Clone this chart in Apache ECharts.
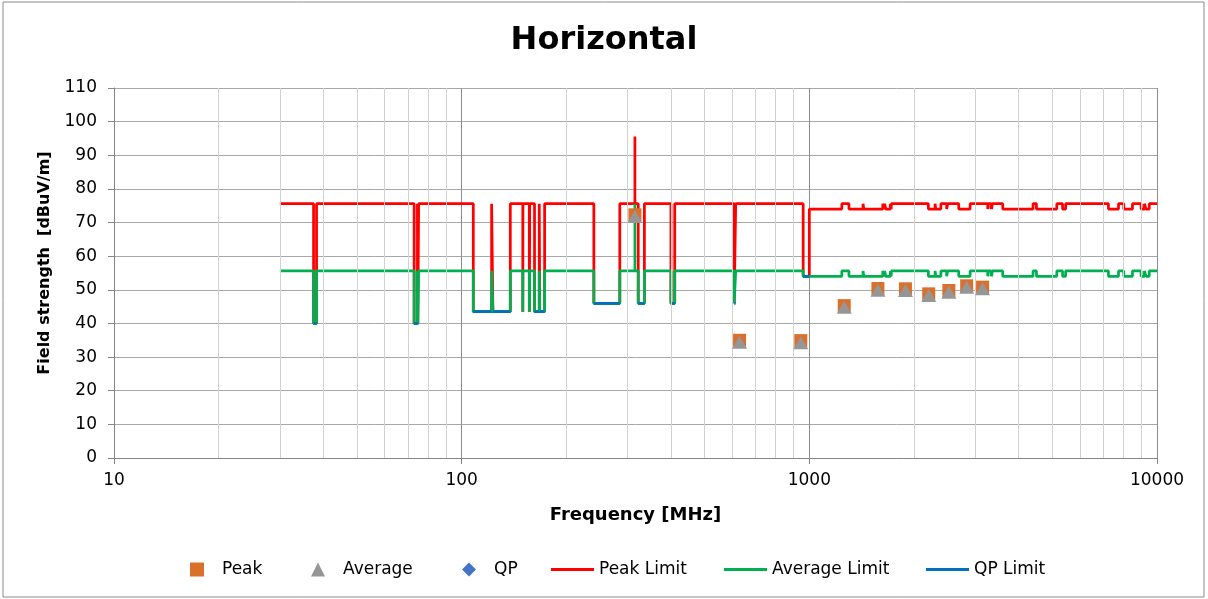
<!DOCTYPE html>
<html>
<head>
<meta charset="utf-8">
<title>Horizontal</title>
<script src="https://cdn.jsdelivr.net/npm/echarts@6/dist/echarts.min.js"></script>
<style>
  html, body { margin: 0; padding: 0; background: #fff; }
  #chart { width: 1208px; height: 599px; }
</style>
</head>
<body>
<div id="chart"></div>
<script>
// measured emissions (MHz, dBuV/m)
const peakFreq = [315, 630, 945, 1260, 1575, 1890, 2205, 2520, 2835, 3150];
const peakLevel = [72.3, 35.0, 34.9, 45.3, 50.4, 50.3, 48.8, 49.8, 51.2, 50.8];
const avgLevel = [71.8, 34.4, 34.3, 44.8, 49.9, 49.8, 48.3, 49.3, 50.8, 50.3];
const qpFreq = [];
const qpLevel = [];

// limit lines: general level outside the bands, band levels inside
const startFreq = 30;
const stopFreq = 10000;
const generalPeak = 75.6;
const generalAvg = 55.6;

const bandStart = [37.5, 73, 74.8, 108, 123, 149.9, 156.52475, 156.7, 162.0125, 167.72,
  240, 315, 322, 399.9, 608, 960, 1000, 1300, 1435, 1645.5, 1660, 1718.8, 2200, 2310,
  2483.5, 2690, 3260, 3332, 3345.8, 3600, 4500, 5350, 7250, 8025, 9000, 9300];
const bandStop = [38.25, 74.6, 75.2, 121.94, 138, 150.05, 156.52525, 156.9, 167.17, 173.2,
  285, 315, 335.4, 410, 614, 1000, 1240, 1427, 1626.5, 1646.5, 1710, 1722.2, 2300, 2390,
  2500, 2900, 3267, 3339, 3358, 4400, 5150, 5460, 7750, 8500, 9200, 9500];
const bandPeak = [40, 40, 40, 43.5, 43.5, 43.5, 43.5, 43.5, 43.5, 43.5,
  46, 95.6, 46, 46, 46, 54, 74, 74, 74, 74, 74, 74, 74, 74,
  74, 74, 74, 74, 74, 74, 74, 74, 74, 74, 74, 74];
const bandAvg = [40, 40, 40, 43.5, 43.5, 43.5, 43.5, 43.5, 43.5, 43.5,
  46, 75.6, 46, 46, 46, 54, 54, 54, 54, 54, 54, 54, 54, 54,
  54, 54, 54, 54, 54, 54, 54, 54, 54, 54, 54, 54];
const bandQp = [40, 40, 40, 43.5, 43.5, 43.5, 43.5, 43.5, 43.5, 43.5,
  46, null, 46, 46, 46, 54, null, null, null, null, null, null, null, null,
  null, null, null, null, null, null, null, null, null, null, null, null];

const minorTicks = [20, 30, 40, 50, 60, 70, 80, 90, 200, 300, 400, 500, 600, 700, 800, 900,
  2000, 3000, 4000, 5000, 6000, 7000, 8000, 9000];

function stepLine(bandLevel, general) {
  const pts = [[startFreq, general]];
  for (let i = 0; i < bandStart.length; i++) {
    const lo = bandStart[i], hi = bandStop[i];
    if (i === 0 || bandStop[i - 1] !== lo) pts.push([lo, general]);
    pts.push([lo, bandLevel[i]], [hi, bandLevel[i]]);
    if (i === bandStart.length - 1 || bandStart[i + 1] !== hi) pts.push([hi, general]);
  }
  pts.push([stopFreq, general]);
  return pts;
}

function qpSegments() {
  const pts = [];
  for (let i = 0; i < bandStart.length; i++) {
    if (bandQp[i] == null) continue;
    pts.push([bandStart[i], bandQp[i]], [bandStop[i], bandQp[i]], [bandStop[i], '-']);
  }
  return pts;
}

const font = 'DejaVu Sans';
const chart = echarts.init(document.getElementById('chart'));

// marker legends: small icon, text pushed right like the Excel legend
function markerLegend(name, left) {
  return {
    data: [name],
    left: left,
    top: 556,
    itemWidth: 14,
    itemHeight: 14,
    selectedMode: false,
    textStyle: { fontFamily: font, fontSize: 17, color: '#000', padding: [0, 0, 0, 13] }
  };
}
function lineLegend(name, left) {
  return {
    data: [{ name: name, icon: 'rect' }],
    left: left,
    top: 556,
    itemWidth: 43,
    itemHeight: 3,
    selectedMode: false,
    textStyle: { fontFamily: font, fontSize: 17, color: '#000' }
  };
}

const option = {
  animation: false,
  backgroundColor: '#fff',
  title: {
    text: 'Horizontal',
    left: 'center',
    top: 20,
    textStyle: { fontFamily: font, fontSize: 32, fontWeight: 'bold', color: '#000' }
  },
  legend: [
    markerLegend('Peak', 185),
    markerLegend('Average', 306),
    markerLegend('QP', 457),
    lineLegend('Peak Limit', 546),
    lineLegend('Average Limit', 719),
    lineLegend('QP Limit', 921)
  ],
  grid: { left: 114, right: 51, top: 88, bottom: 141 },
  xAxis: {
    type: 'log',
    logBase: 10,
    min: 10,
    max: 10000,
    name: 'Frequency [MHz]',
    nameLocation: 'middle',
    nameGap: 48,
    nameTextStyle: { fontFamily: font, fontSize: 18, fontWeight: 'bold', color: '#000' },
    axisLine: { lineStyle: { color: '#868686', width: 1 } },
    axisTick: { show: true, length: 6, lineStyle: { color: '#868686' } },
    axisLabel: {
      margin: 14,
      fontFamily: font,
      fontSize: 17,
      color: '#000',
      formatter: v => String(Math.round(v))
    },
    splitLine: { show: true, lineStyle: { color: '#8c8c8c', width: 1 } }
  },
  yAxis: {
    type: 'value',
    min: 0,
    max: 110,
    interval: 10,
    axisLine: { show: true, lineStyle: { color: '#868686', width: 1 } },
    axisTick: { show: true, length: 6, lineStyle: { color: '#868686' } },
    axisLabel: { margin: 17, fontFamily: font, fontSize: 17, color: '#000' },
    splitLine: { show: true, lineStyle: { color: '#a8a8a8', width: 1 } }
  },
  graphic: [
    {
      type: 'rect',
      shape: { x: 3, y: 2, width: 1201, height: 595 },
      style: { fill: null, stroke: '#8a8a8a', lineWidth: 1 },
      silent: true
    },
    {
      type: 'text',
      x: 45,
      y: 263,
      rotation: Math.PI / 2,
      style: {
        text: 'Field strength  [dBuV/m]',
        fontFamily: font,
        fontSize: 16,
        fontWeight: 'bold',
        fill: '#000',
        textAlign: 'center',
        textVerticalAlign: 'middle'
      },
      silent: true
    }
  ],
  series: [
    {
      name: 'minor grid',
      type: 'line',
      data: [],
      silent: true,
      z: 1,
      markLine: {
        silent: true,
        symbol: ['none', 'none'],
        label: { show: false },
        lineStyle: { color: '#d2d2d2', width: 1, type: 'solid' },
        data: minorTicks.map(f => ({ xAxis: f }))
      }
    },
    {
      name: 'Peak',
      type: 'scatter',
      symbol: 'rect',
      symbolSize: 13,
      z: 5,
      itemStyle: { color: '#D9702C', opacity: 1 },
      data: peakFreq.map((f, i) => [f, peakLevel[i]])
    },
    {
      name: 'Average',
      type: 'scatter',
      symbol: 'triangle',
      symbolSize: [15, 13],
      z: 6,
      itemStyle: { color: '#969696', opacity: 1 },
      data: peakFreq.map((f, i) => [f, avgLevel[i]])
    },
    {
      name: 'QP',
      type: 'scatter',
      symbol: 'diamond',
      symbolSize: 13,
      z: 7,
      itemStyle: { color: '#4472C4', opacity: 1 },
      data: qpFreq.map((f, i) => [f, qpLevel[i]])
    },
    {
      name: 'Peak Limit',
      type: 'line',
      showSymbol: false,
      symbol: 'none',
      z: 2,
      lineStyle: { color: '#FF0000', width: 2.75 },
      itemStyle: { color: '#FF0000' },
      data: stepLine(bandPeak, generalPeak)
    },
    {
      name: 'Average Limit',
      type: 'line',
      showSymbol: false,
      symbol: 'none',
      z: 3,
      lineStyle: { color: '#00B050', width: 2.75 },
      itemStyle: { color: '#00B050' },
      data: stepLine(bandAvg, generalAvg)
    },
    {
      name: 'QP Limit',
      type: 'line',
      showSymbol: false,
      symbol: 'none',
      z: 4,
      lineStyle: { color: '#0070C0', width: 2.75 },
      itemStyle: { color: '#0070C0' },
      data: qpSegments()
    }
  ]
};

chart.setOption(option);
</script>
</body>
</html>
